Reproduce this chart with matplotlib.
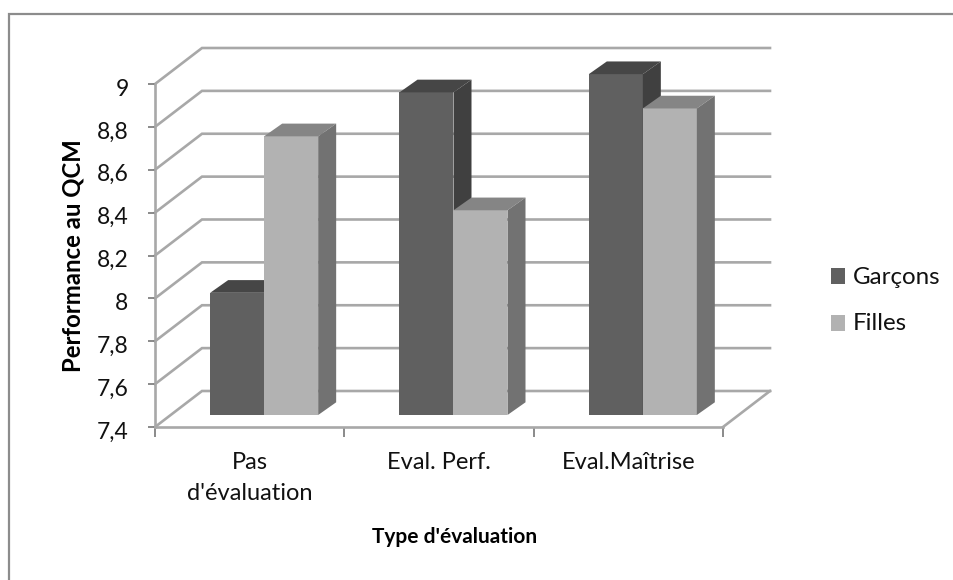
import numpy as np
import matplotlib
matplotlib.use('Agg')
import matplotlib.pyplot as plt
from matplotlib.patches import Polygon, Rectangle
from matplotlib.lines import Line2D
from matplotlib.transforms import ScaledTranslation

plt.rcParams['font.family'] = ['Lato', 'DejaVu Sans']

categories = ['Pas\nd\'évaluation', 'Eval. Perf.', 'Eval.Maîtrise']
garcons = [7.97, 8.905, 8.99]
filles = [8.70, 8.355, 8.83]
yticks = [7.4, 7.6, 7.8, 8, 8.2, 8.4, 8.6, 8.8, 9]
yticklabels = ['7,4', '7,6', '7,8', '8', '8,2', '8,4', '8,6', '8,8', '9']

W, H = 954, 580
fig = plt.figure(figsize=(W/100, H/100), dpi=100)

# chart frame, only left and top show in the crop
fig.add_artist(Line2D([9.5/W, 9.5/W, 1], [0, 1-13.5/H, 1-13.5/H], color='#8c8c8c', lw=1.6,
                      transform=fig.transFigure, zorder=-1, solid_joinstyle='miter'))

# front plane of the fake 3D box
left, right, top, bottom = 155, 723, 84, 427
ax = fig.add_axes([left/W, 1-bottom/H, (right-left)/W, (bottom-top)/H])
ax.set_xlim(0, 3)
ax.set_ylim(7.4, 9)
ax.patch.set_alpha(0)

px_x = 3/(right-left)
px_y = 1.6/(bottom-top)
wall_dx, wall_dy = 47*px_x, 36*px_y
off_dx, off_dy = 14.5*px_x, 12*px_y
bar_dx, bar_dy = 18*px_x, 12.7*px_y
bar_w = 54*px_x
grid = '#a8a8a8'

# walls, drawn under the bars
for y in yticks:
    ax.plot([0, wall_dx, 3+wall_dx], [y, y+wall_dy, y+wall_dy], color=grid, lw=1.9,
            clip_on=False, zorder=1, solid_joinstyle='miter')
ax.plot([3, 3+wall_dx], [7.4, 7.4+wall_dy], color=grid, lw=1.9, clip_on=False, zorder=1)


def bar3d(x, v, front, topc, side, z):
    b = 7.4 + off_dy
    ax.bar(x+off_dx, v-7.4, bar_w, bottom=b, color=front, align='edge', zorder=z, clip_on=False)
    x0, x1 = x+off_dx, x+off_dx+bar_w
    t = v + off_dy
    ax.add_patch(Polygon([(x0, t), (x0+bar_dx, t+bar_dy), (x1+bar_dx, t+bar_dy), (x1, t)],
                         fc=topc, ec='none', zorder=z, clip_on=False))
    ax.add_patch(Polygon([(x1, b), (x1+bar_dx, b+bar_dy), (x1+bar_dx, t+bar_dy), (x1, t)],
                         fc=side, ec='none', zorder=z, clip_on=False))


for i in range(3):
    x = 0.5 + i - bar_w
    bar3d(x, garcons[i], '#606060', '#464646', '#404040', 3+i*2)
    bar3d(x+bar_w, filles[i], '#b2b2b2', '#858585', '#727272', 4+i*2)

for s in ['top', 'right']:
    ax.spines[s].set_visible(False)
for s in ['left', 'bottom']:
    ax.spines[s].set_color(grid)
    ax.spines[s].set_linewidth(1.9)
    ax.spines[s].set_zorder(2)

ax.set_yticks(yticks)
ax.set_yticklabels(yticklabels, fontsize=16.5, color='#111111')
ax.set_xticks([0, 1, 2, 3])
ax.set_xticklabels([])
ax.set_xticks([0.5, 1.5, 2.5], categories, minor=True, fontsize=17, color='#111111')
ax.tick_params(axis='x', which='minor', length=0, pad=18)
ax.tick_params(axis='x', which='major', length=7, width=1.2, color='#777777')
ax.tick_params(axis='y', length=5, width=1.2, color='#777777', pad=14)
shift = ScaledTranslation(0, -3/100, fig.dpi_scale_trans)
for t in ax.get_yticklabels():
    t.set_transform(t.get_transform() + shift)
for t in ax.get_xticklabels(minor=True):
    t.set_linespacing(1.6)

fig.text(73/W, 1-256/H, 'Performance au QCM', rotation=90, ha='center', va='center',
         fontsize=17.2, fontweight='bold', color='black')
fig.text(454.5/W, 1-537/H, "Type d'évaluation", ha='center', va='center',
         fontsize=15, fontweight='bold', color='black')

# legend
for lab, col, yp in [('Garçons', '#606060', 277), ('Filles', '#b2b2b2', 324)]:
    fig.add_artist(Rectangle((831/W, 1-(yp+6.5)/H), 14/W, 16/H, fc=col, ec='none', transform=fig.transFigure))
    fig.text(853/W, 1-yp/H, lab, ha='left', va='center', fontsize=17.4, color='#111111')

fig.savefig('out.png', dpi=100)
